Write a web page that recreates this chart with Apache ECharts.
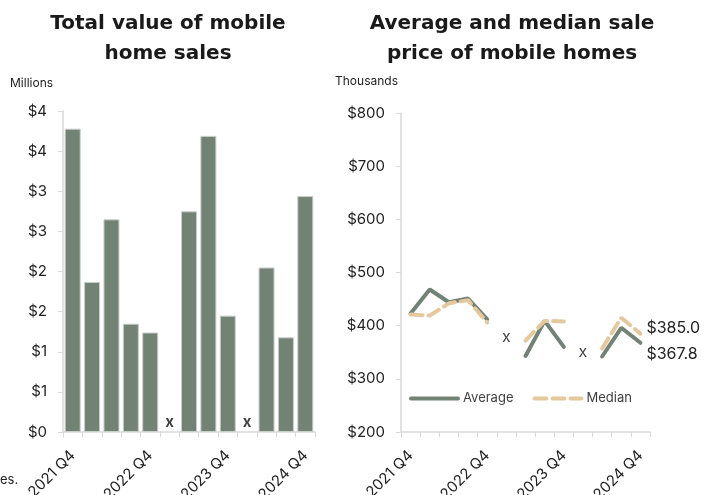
<!DOCTYPE html>
<html>
<head>
<meta charset="utf-8">
<script src="https://cdn.jsdelivr.net/npm/echarts@6/dist/echarts.min.js"></script>
<style>
  html, body { margin: 0; padding: 0; background: #fff; }
  #main { width: 707px; height: 495px; }
</style>
</head>
<body>
<div id="main"></div>
<script>
// quarters shown on both charts, labels every fourth one
var quarters = ['2021 Q4', '2022 Q1', '2022 Q2', '2022 Q3', '2022 Q4', '2023 Q1', '2023 Q2',
  '2023 Q3', '2023 Q4', '2024 Q1', '2024 Q2', '2024 Q3', '2024 Q4'];
// total sales value, millions (null = suppressed, drawn as x)
var totalValue = [3.78, 1.87, 2.65, 1.35, 1.24, null, 2.75, 3.69, 1.45, null, 2.05, 1.18, 2.94];
// sale prices, thousands
var avgPrice = [423, 468, 444, 451, 412, null, 343, 409, 360, null, 342, 396, 367.8];
var medianPrice = [421, 419, 442, 448, 406, null, 372, 409, 408, null, 357, 415, 385.0];

var green = '#728275';
var tan = '#e6c89f';
var axisGrey = '#d9d9d9';
var font = 'Inter';
var titleFont = 'DejaVu Sans';

// x markers for suppressed quarters
var leftGaps = totalValue.map(function (v, i) { return v == null ? [i, 0] : null; }).filter(Boolean);
var rightGaps = avgPrice.map(function (v, i) {
  if (v != null) return null;
  return [i, (avgPrice[i - 1] + avgPrice[i + 1]) / 2];
}).filter(Boolean);

var chart = echarts.init(document.getElementById('main'));

function xAxisOf(grid) {
  return {
    type: 'category',
    gridIndex: grid,
    data: quarters,
    axisLine: { lineStyle: { color: axisGrey, width: 1.5 } },
    axisTick: { show: true, interval: 0, length: 5, lineStyle: { color: axisGrey } },
    axisLabel: { interval: 3, rotate: 45, margin: 21, fontSize: 15, color: '#222', fontFamily: font }
  };
}

var option = {
  animation: false,
  textStyle: { fontFamily: font },
  title: [
    {
      text: 'Total value of mobile\nhome sales',
      left: 163, top: 4, textAlign: 'center',
      textStyle: { fontSize: 20, fontWeight: 'bold', color: '#1a1a1a', lineHeight: 30, fontFamily: titleFont }
    },
    {
      text: 'Average and median sale\nprice of mobile homes',
      left: 507, top: 4, textAlign: 'center',
      textStyle: { fontSize: 20, fontWeight: 'bold', color: '#1a1a1a', lineHeight: 30, fontFamily: titleFont }
    }
  ],
  graphic: [
    { type: 'text', left: 10, top: 77, style: { text: 'Millions', fontSize: 12, fill: '#222', fontFamily: font } },
    { type: 'text', left: 335, top: 75, style: { text: 'Thousands', fontSize: 12, fill: '#222', fontFamily: font } },
    { type: 'text', left: 0, top: 474, style: { text: 'es.', fontSize: 13, fill: '#222', fontFamily: font } }
  ],
  legend: {
    left: 404, top: 387,
    itemWidth: 47, itemHeight: 12, itemGap: 19,
    itemStyle: { opacity: 0 },
    data: [
      { name: 'Average', lineStyle: { width: 4, color: green, cap: 'round' } },
      { name: 'Median', lineStyle: { width: 4, color: tan, type: [12, 6], cap: 'round' } }
    ],
    textStyle: { fontSize: 13, color: '#404040', fontFamily: font }
  },
  grid: [
    { left: 63, top: 111, width: 252, height: 321, outerBoundsMode: 'none' },
    { left: 401, top: 113, width: 249, height: 319, outerBoundsMode: 'none' }
  ],
  xAxis: [xAxisOf(0), xAxisOf(1)],
  yAxis: [
    {
      type: 'value', gridIndex: 0, min: 0, max: 4, interval: 0.5,
      axisLine: { show: true, lineStyle: { color: axisGrey, width: 1.5 } },
      axisTick: { show: true, length: 5, lineStyle: { color: axisGrey } },
      splitLine: { show: false },
      axisLabel: {
        margin: 16, fontSize: 15, color: '#222', fontFamily: font,
        formatter: function (v) { return '$' + Math.round(v); }
      }
    },
    {
      type: 'value', gridIndex: 1, min: 200, max: 800, interval: 100,
      axisLine: { show: true, lineStyle: { color: axisGrey, width: 1.5 } },
      axisTick: { show: true, length: 5, lineStyle: { color: axisGrey } },
      splitLine: { show: false },
      axisLabel: {
        margin: 16, fontSize: 15, color: '#222', fontFamily: font,
        formatter: function (v) { return '$' + v; }
      }
    }
  ],
  series: [
    {
      name: 'Total value', type: 'bar', xAxisIndex: 0, yAxisIndex: 0,
      data: totalValue, barWidth: 16,
      itemStyle: { color: green, borderColor: '#c9cfca', borderWidth: 1 }
    },
    {
      name: 'gapsLeft', type: 'scatter', xAxisIndex: 0, yAxisIndex: 0,
      data: leftGaps, symbolSize: 0.1, itemStyle: { color: 'transparent' },
      label: { show: true, position: 'top', distance: 2, formatter: 'x',
        fontSize: 15, fontWeight: 'bold', color: '#111', fontFamily: font }
    },
    {
      name: 'Average', type: 'line', xAxisIndex: 1, yAxisIndex: 1,
      data: avgPrice, symbol: 'none', connectNulls: false, color: green,
      lineStyle: { color: green, width: 4, cap: 'round' },
      endLabel: { show: true, distance: 6, offset: [0, 11], fontSize: 16, color: '#222', fontFamily: font,
        formatter: function (p) { return '$' + p.value.toFixed(1); } }
    },
    {
      name: 'Median', type: 'line', xAxisIndex: 1, yAxisIndex: 1,
      data: medianPrice, symbol: 'none', connectNulls: false, color: tan,
      lineStyle: { color: tan, width: 4, type: [12, 6], cap: 'round' },
      endLabel: { show: true, distance: 6, offset: [0, -5], fontSize: 16, color: '#222', fontFamily: font,
        formatter: function (p) { return '$' + p.value.toFixed(1); } }
    },
    {
      name: 'gapsRight', type: 'scatter', xAxisIndex: 1, yAxisIndex: 1,
      data: rightGaps, symbolSize: 0.1, itemStyle: { color: 'transparent' },
      label: { show: true, position: 'inside', formatter: 'x',
        fontSize: 16, color: '#111', fontFamily: font }
    }
  ]
};

chart.setOption(option);
</script>
</body>
</html>
